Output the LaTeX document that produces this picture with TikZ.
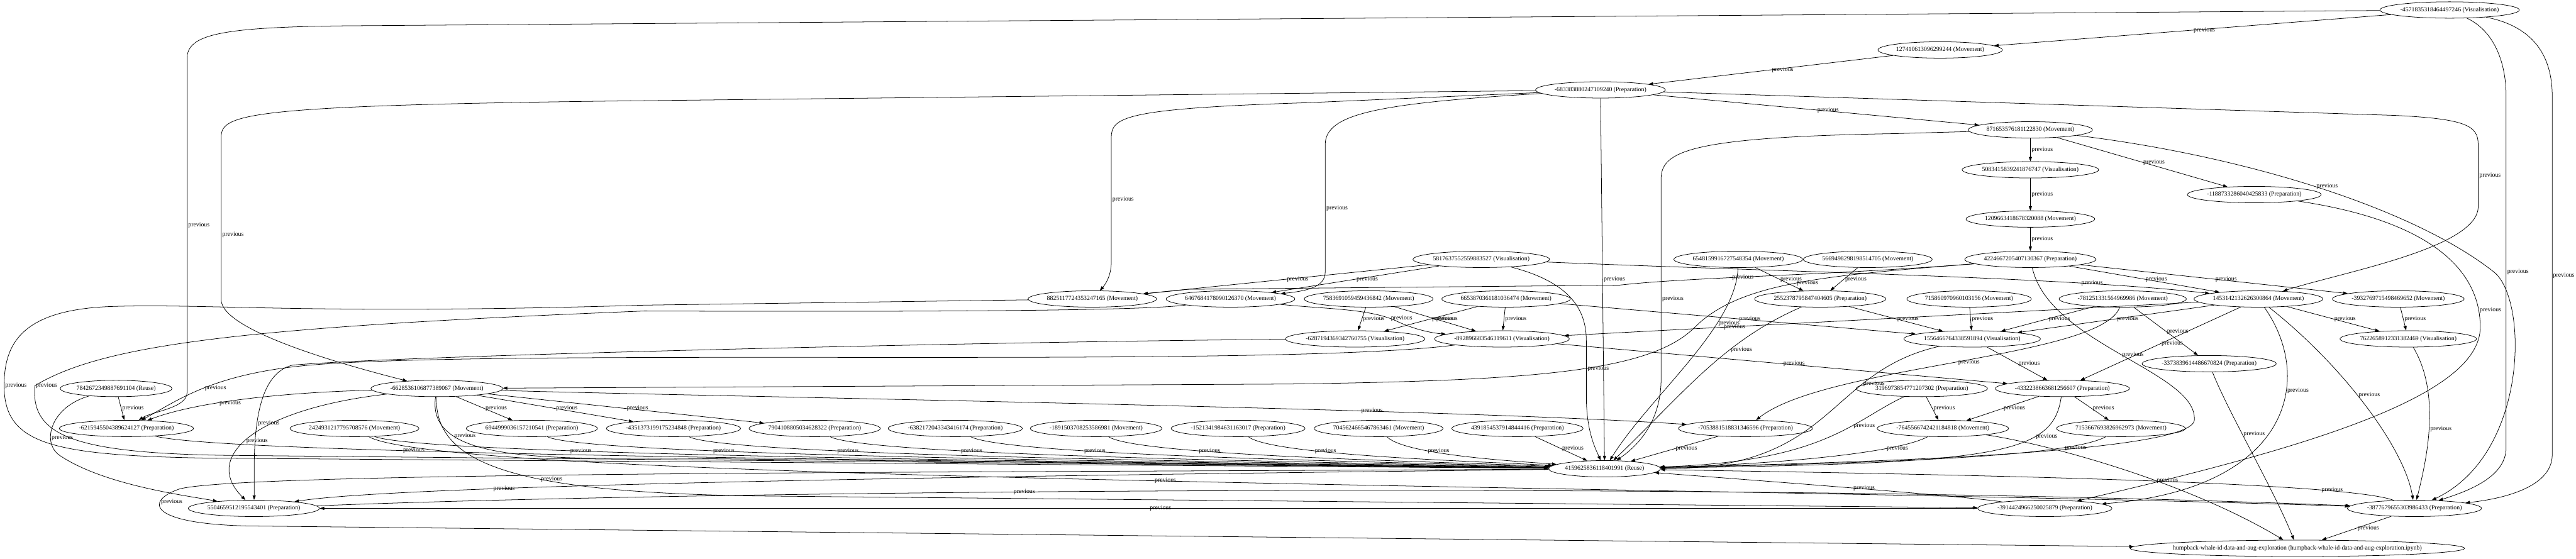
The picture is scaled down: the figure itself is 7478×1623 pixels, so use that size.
\documentclass[tikz,border=0pt]{standalone}
\usepackage{fontspec}
\setmainfont{Liberation Serif}
\usetikzlibrary{arrows.meta,shapes.geometric}
\newcommand\gvfont{\fontsize{5.1pt}{6pt}\selectfont}
\begin{document}
\begin{tikzpicture}[x=0.1mm,y=-0.1mm,
  nd/.style={ellipse,draw,line width=0.4pt,inner xsep=0pt,inner ysep=0pt,minimum height=4.75mm,font=\gvfont},
  prv/.style={draw,line width=0.4pt,-{Triangle[length=3.7pt,width=2.6pt]}},
  lbl/.style={font=\gvfont,anchor=west,inner sep=0.8pt}]
\fill[white] (0,0) rectangle (7478,1623);
\useasboundingbox (0,0) rectangle (7478,1623);
% nodes, rank by rank
\foreach \nm/\x/\y/\lab in {%
 n1/7111/29/{-4571835318464497246 (Visualisation)},
 b/5632/145/{127410613096299244 (Movement)},
 a/4646/261/{-683383880247109240 (Preparation)},
 m8716/5894/377/{871653576181122830 (Movement)},
 v5083/5894/493/{5083415839241876747 (Visualisation)},
 p1188/6544/565/{-1188733286040425833 (Preparation)},
 m1209/5894/636/{1209663418678320088 (Movement)},
 v5817/4300/753/{5817637552559883527 (Visualisation)},
 m6548/5046/753/{6548159916727548354 (Movement)},
 m5669/5422/753/{5669498298198514705 (Movement)},
 p4224/5894/753/{4224667205407130367 (Preparation)},
 m8825/3171/868/{8825117724353247165 (Movement)},
 m6467/3572/868/{6467684178090126370 (Movement)},
 m7583/3973/868/{7583691059459436842 (Movement)},
 m6653/4372/868/{6653870361181036474 (Movement)},
 p2552/5284/868/{2552378795847404605 (Preparation)},
 m7158/5716/868/{715860970960103156 (Movement)},
 m7812/6162/868/{-781251331564969986 (Movement)},
 m1453/6556/868/{1453142132626300864 (Movement)},
 m3932/6962/868/{-3932769715498469652 (Movement)},
 v6287/3934/984/{-6287194369342760755 (Visualisation)},
 v8928/4360/984/{-892896683546319611 (Visualisation)},
 v1556/5725/984/{1556466764338591894 (Visualisation)},
 v7622/6991/984/{7622658912331382469 (Visualisation)},
 p3373/6413/1056/{-3373839614486670824 (Preparation)},
 r7842/337/1128/{7842672349887691104 (Reuse)},
 m6628/1268/1128/{-6628536106877389067 (Movement)},
 p3196/5579/1128/{3196973854771207302 (Preparation)},
 p4332/5987/1128/{-4332238663681256607 (Preparation)},
 p6215/367/1244/{-6215945504389624127 (Preparation)},
 m2424/1029/1244/{2424931217795708576 (Movement)},
 p6944/1544/1244/{6944999036157210541 (Preparation)},
 p4351/1955/1244/{-4351373199175234848 (Preparation)},
 p7904/2365/1244/{7904108805034628322 (Preparation)},
 p6382/2773/1244/{-6382172043343416174 (Preparation)},
 m1891/3182/1244/{-1891503708253586981 (Movement)},
 p1521/3594/1244/{-1521341984631163017 (Preparation)},
 m7045/4002/1244/{7045624665467863461 (Movement)},
 p4391/4405/1244/{4391854537914844416 (Preparation)},
 p7053/5067/1244/{-7053881518831346596 (Preparation)},
 m7645/5640/1244/{-7645566742421184818 (Movement)},
 m7153/6157/1244/{7153667693826962973 (Movement)},
 r4159/4658/1361/{4159625836118401991 (Reuse)},
 p5504/737/1476/{5504659512195543401 (Preparation)},
 p3914/5936/1476/{-3914424966250025879 (Preparation)},
 p3877/7009/1476/{-3877679655303986433 (Preparation)}}{
  \node[nd] (\nm) at (\x,\y) {\lab};}
\node[nd,inner xsep=-1.8mm] (hw) at (6669,1592) {humpback-whale-id-data-and-aug-exploration (humpback-whale-id-data-and-aug-exploration.ipynb)};
% straight edges
\foreach \src/\dst in {n1/b, b/a, a/r4159, a/m8716, m8716/v5083, m8716/p1188, v5083/m1209, m1209/p4224,
 p4224/m1453, p4224/m3932, v5817/m8825, v5817/m6467, m6548/p2552, m5669/p2552, p2552/v1556,
 m7583/v6287, m7583/v8928, m6653/v6287, m6653/v8928, m6653/v1556, m7158/v1556, m7812/v1556,
 m7812/p3373, m1453/v1556, m1453/v7622, m1453/p4332, m3932/v7622, v1556/p4332,
 v8928/p4332, r7842/p6215, m6628/p6944, m6628/p4351, m6628/p7904, p4391/r4159, p7053/r4159,
 p3196/m7645, p4332/m7645, p4332/m7153, p3877/hw, p3914/p5504}{
  \draw[prv] (\src) -- node[lbl]{previous} (\dst);}
\draw[prv] (m1453) -- node[lbl,pos=0.75]{previous} (v8928);
% bottom rank into the reuse node
\foreach \src/\c/\d in {p6215/300/-1500, m2424/200/-1400, p6944/150/-1200, p4351/150/-1000, p7904/150/-800,
 p6382/150/-600, m1891/120/-450, p1521/100/-320, m7045/80/-220}{
  \draw[prv] (\src) .. controls +(\c,80) and +(\d,-20) .. (r4159) node[lbl,pos=0.3]{previous};}
% long routed edges
\draw[prv] (n1) -- (1000,75) .. controls (640,79) and (543,100) .. (543,170) -- (543,1140) node[lbl,midway]{previous} .. controls (543,1185) and (440,1195) .. (p6215);
\draw[prv] (n1) .. controls (7240,90) and (7275,180) .. (7275,280) -- (7275,1300) node[lbl,midway]{previous} .. controls (7275,1390) and (7150,1430) .. (p3877);
\draw[prv] (n1) .. controls (7370,80) and (7409,180) .. (7409,280) -- (7409,1320) node[lbl,midway,inner sep=0.5pt]{previous} .. controls (7409,1420) and (7250,1450) .. (p3877);
\draw[prv] (a) -- (1900,292) .. controls (700,305) and (642,330) .. (642,400) -- (642,870) node[lbl,pos=0.6]{previous} .. controls (642,960) and (1000,1060) .. (m6628);
\draw[prv] (a) -- (3800,298) .. controls (3262,315) and (3226,340) .. (3226,400) -- (3226,760) node[lbl,midway]{previous} .. controls (3226,805) and (3205,830) .. (m8825);
\draw[prv] (a) .. controls (4000,300) and (3847,330) .. (3847,420) -- (3847,790) node[lbl,midway]{previous} .. controls (3847,835) and (3790,845) .. (m6467);
\draw[prv] (a) -- (6950,335) .. controls (7160,345) and (7194,365) .. (7194,420) -- (7194,600) node[lbl,midway]{previous} .. controls (7194,720) and (6800,790) .. (m1453);
\draw[prv] (m8716) .. controls (6500,450) and (7000,600) .. (7240,790) node[lbl,pos=0.5]{previous} .. controls (7340,870) and (7340,1320) .. (p3877);
\draw[prv] (m8716) -- (5500,388) .. controls (4900,398) and (4822,440) .. (4822,520) -- (4822,1100) node[lbl,pos=0.6]{previous} .. controls (4822,1220) and (4760,1290) .. (r4159);
\draw[prv] (p4224) .. controls (5300,800) and (5050,820) .. (4920,950) node[lbl,pos=0.5]{previous} .. controls (4790,1080) and (4450,1105) .. (3740,1115) -- (m6628);
\draw[prv] (p4224) .. controls (5300,800) and (4900,805) .. (4700,828) node[lbl,pos=0.6]{previous} -- (3450,840) -- (m8825);
\draw[prv] (p4224) .. controls (5950,1000) and (6380,1080) .. (6370,1220) node[lbl,pos=0.5]{previous} .. controls (6360,1320) and (5300,1345) .. (r4159);
\draw[prv] (p1188) .. controls (7050,640) and (7200,780) .. (7200,950) node[lbl,pos=0.9]{previous} .. controls (7200,1150) and (6700,1300) .. (p3914);
\draw[prv] (v5817) .. controls (5200,790) and (6000,805) .. (m1453) node[lbl,pos=0.75]{previous};
\draw[prv] (v5817) .. controls (4560,820) and (4605,900) .. (4605,990) -- (4605,1150) node[lbl,midway]{previous} .. controls (4605,1250) and (4630,1300) .. (r4159);
\draw[prv] (m6548) .. controls (5040,950) and (4790,1150) .. (r4159) node[lbl,pos=0.3]{previous};
\draw[prv] (p2552) .. controls (5000,990) and (4880,1150) .. (r4159) node[lbl,pos=0.35]{previous};
\draw[prv] (m6467) .. controls (3850,898) and (3980,895) .. (4060,935) node[lbl,pos=0.9]{previous} .. controls (4120,962) and (4170,968) .. (v8928);
\draw[prv] (m7812) .. controls (6100,1040) and (5300,1060) .. (p7053) node[lbl,pos=0.5]{previous};
\draw[prv] (m1453) .. controls (6720,1100) and (6650,1420) .. (p3914) node[lbl,pos=0.35]{previous};
\draw[prv] (m1453) .. controls (6800,1060) and (6980,1300) .. (p3877) node[lbl,pos=0.45]{previous};
\draw[prv] (v7622) .. controls (7090,1150) and (7040,1350) .. (p3877) node[lbl,pos=0.5]{previous};
\draw[prv] (v1556) .. controls (5300,1080) and (5330,1360) .. (r4159) node[lbl,pos=0.3]{previous};
\draw[prv] (v8928) .. controls (3700,1070) and (1500,1010) .. (900,1060) .. controls (620,1085) and (520,1160) .. (p6215) node[lbl,pos=0.5]{previous};
\draw[prv] (v6287) .. controls (3000,990) and (1200,1030) .. (850,1060) .. controls (720,1090) and (740,1350) .. (p5504) node[lbl,pos=0.5]{previous};
\draw[prv] (r7842) .. controls (150,1180) and (120,1280) .. (170,1320) node[lbl,pos=0.7]{previous} .. controls (300,1410) and (550,1440) .. (p5504);
\draw[prv] (m6628) .. controls (800,1140) and (560,1170) .. (p6215) node[lbl,pos=0.6]{previous};
\draw[prv] (m6628) .. controls (760,1185) and (580,1320) .. (p5504) node[lbl,pos=0.55]{previous};
\draw[prv] (m6628) .. controls (2000,1150) and (4200,1185) .. (p7053) node[lbl,pos=0.7]{previous};
\draw[prv] (m6628) .. controls (1240,1320) and (1500,1335) .. (1900,1330) node[lbl,pos=0.3]{previous} -- (r4159);
\draw[prv] (m6628) .. controls (1260,1350) and (1500,1430) .. (2200,1440) node[lbl,pos=0.6]{previous} -- (p3914);
\draw[prv] (m2424) .. controls (1300,1400) and (5000,1410) .. (p3877) node[lbl,pos=0.5]{previous};
\draw[prv] (p5504) .. controls (2000,1425) and (5000,1395) .. (p3877) node[lbl,pos=0.4]{previous};
\draw[prv] (r4159) .. controls (3500,1375) and (1200,1400) .. (p5504) node[lbl,pos=0.75]{previous};
\draw[prv] (r4159) .. controls (3000,1372) and (700,1368) .. (520,1420) .. controls (420,1455) and (430,1520) .. (716,1527) node[lbl,pos=0.3]{previous} -- (hw);
\draw[prv] (p3914) .. controls (5700,1440) and (5100,1395) .. (r4159) node[lbl,pos=0.5]{previous};
\draw[prv] (p3877) .. controls (6800,1395) and (5500,1375) .. (r4159) node[lbl,pos=0.2]{previous};
\draw[prv] (p3373) .. controls (6470,1200) and (6600,1420) .. (hw) node[lbl,pos=0.4]{previous};
\draw[prv] (m7645) .. controls (5950,1290) and (6350,1400) .. (hw) node[lbl,pos=0.6]{previous};
\draw[prv] (p3196) .. controls (5380,1220) and (5300,1340) .. (r4159) node[lbl,pos=0.35]{previous};
\draw[prv] (p4332) .. controls (5960,1320) and (5800,1345) .. (r4159) node[lbl,pos=0.3]{previous};
\draw[prv] (m7153) .. controls (6000,1330) and (5400,1345) .. (r4159) node[lbl,pos=0.2]{previous};
\draw[prv] (m7645) .. controls (5500,1320) and (5100,1350) .. (r4159) node[lbl,pos=0.25]{previous};
\draw[prv] (m8825) -- (1870,886) .. controls (900,915) and (600,880) .. (320,890) .. controls (60,900) and (12,1000) .. (12,1120) node[lbl,pos=1]{previous} .. controls (12,1290) and (150,1322) .. (600,1330) -- (r4159);
\draw[prv] (m6467) .. controls (3300,905) and (2500,905) .. (1870,903) .. controls (700,950) and (300,1000) .. (101,1120) node[lbl,pos=1]{previous} .. controls (90,1260) and (200,1315) .. (650,1322) -- (r4159);
\end{tikzpicture}
\end{document}
